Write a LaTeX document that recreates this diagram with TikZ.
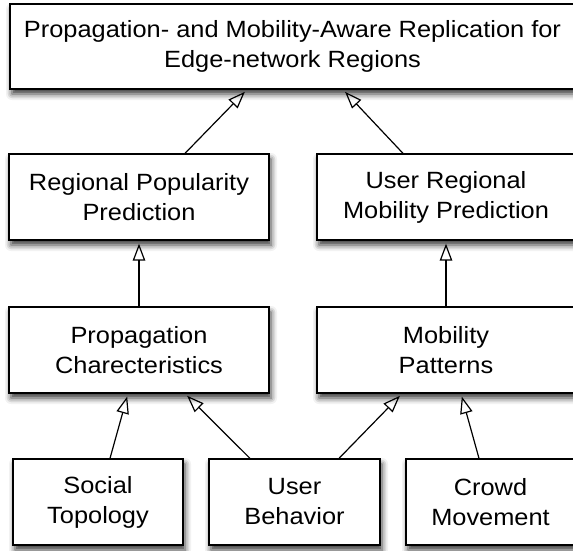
\documentclass[tikz,border=0pt]{standalone}
\usepackage{fontspec}
\setmainfont{Liberation Sans}[FakeStretch=1.08]
\usetikzlibrary{arrows.meta,shadows.blur}

\begin{document}
\begin{tikzpicture}[x=1pt,y=1pt,yscale=-1,xscale=1,
  box/.style={draw=black, line width=1.3pt, fill=white, align=center, inner sep=0pt,
    minimum height=86pt, font=\fontsize{23.5}{30}\selectfont,
    blur shadow={shadow xshift=2pt, shadow yshift=-5pt, shadow blur radius=6pt, shadow opacity=80}},
  dep/.style={line width=1.2pt, shorten >=3pt,
    -{Triangle[open, length=17pt, width=12.5pt, line width=1.2pt]}}]

% --- CONFIGURATION ---
\def\wl{260} % Left column width
\def\wr{258} % Right column width
\useasboundingbox (0,0) rectangle (573,550);

% --- GOAL ---
\node[box, minimum width=565pt, minimum height=85pt] (goal) at (292.5, 46.5)
  {Propagation- and Mobility-Aware Replication for\\Edge-network Regions};

% --- PREDICTIONS ---
\node[box, minimum width=\wl pt] (popular) at (139, 197) {Regional Popularity\\Prediction};
\node[box, minimum width=\wr pt] (mobpred) at (446, 197) {User Regional\\Mobility Prediction};

% --- CHARACTERISTICS ---
\node[box, minimum width=\wl pt] (propag) at (139, 350) {Propagation\\Charecteristics};
\node[box, minimum width=\wr pt] (pattern) at (446, 350) {Mobility\\Patterns};

% --- SOURCES ---
\node[box, minimum width=170pt] (social) at (98, 502) {Social\\Topology};
\node[box, minimum width=171pt] (behav) at (294.5, 502) {User\\Behavior};
\node[box, minimum width=169pt] (crowd) at (490.5, 502) {Crowd\\Movement};

% --- DEPENDENCIES ---
\draw[dep] ([xshift=46pt]popular.north) -- ([xshift=-45.5pt]goal.south);
\draw[dep] ([xshift=-43pt]mobpred.north) -- ([xshift=50.5pt]goal.south);

\draw[dep] (propag.north) -- (popular.south);
\draw[dep] (pattern.north) -- (mobpred.south);

\draw[dep] ([xshift=12pt]social.north) -- ([xshift=-11pt]propag.south);
\draw[dep] ([xshift=-44.5pt]behav.north) -- ([xshift=46pt]propag.south);
\draw[dep] ([xshift=44.5pt]behav.north) -- ([xshift=-44pt]pattern.south);
\draw[dep] ([xshift=-11.5pt]crowd.north) -- ([xshift=15pt]pattern.south);

\end{tikzpicture}
\end{document}
